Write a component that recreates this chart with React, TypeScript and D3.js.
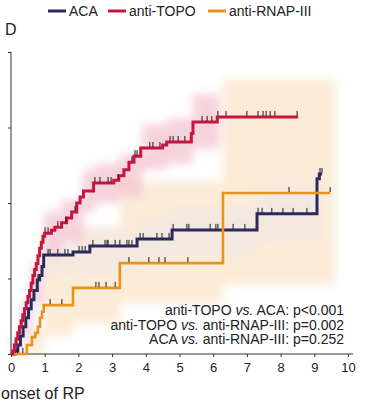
import React, { useEffect, useRef } from "react";
import * as d3 from "d3";

const seriesNames = ["ACA", "anti-TOPO", "anti-RNAP-III"];
const seriesColors = ["#272b5e", "#c8153f", "#e8941c"];
const bandColors = ["#e6e8f2", "#f4c4d1", "#fce9d3"];

// ACA: event times (years) and cumulative incidence
const acaTimes = [0, 0.12, 0.2, 0.28, 0.36, 0.44, 0.52, 0.6, 0.68, 0.78, 0.85, 0.92, 0.97, 1.84, 2.34, 3.74, 4.78, 7.3, 9.08, 9.15];
const acaValues = [0, 0.01, 0.03, 0.06, 0.09, 0.12, 0.15, 0.18, 0.21, 0.245, 0.26, 0.29, 0.328, 0.338, 0.358, 0.381, 0.411, 0.464, 0.58, 0.596];
const acaEnd = 9.23;
const acaCensored = [0.8, 1.1, 1.16, 1.39, 1.6, 1.69, 2.02, 2.11, 2.2, 2.43, 2.79, 2.85, 2.88, 3.09, 3.23, 3.44, 3.5, 3.59, 3.83, 3.92, 4.33, 4.48, 4.69, 4.81, 5.22, 5.28, 5.91, 6.08, 6.14, 6.59, 6.94, 7.33, 7.45, 7.74, 8.07, 8.37, 8.78, 9.17, 9.23];
const acaBandTimes = [0.12, 0.5, 0.97, 1.84, 3.74, 4.78, 7.3, 9.2];
const acaBandLow = [0, 0.1, 0.26, 0.27, 0.3, 0.33, 0.37, 0.37];
const acaBandHigh = [0.04, 0.2, 0.4, 0.41, 0.45, 0.49, 0.56, 0.56];

// anti-TOPO
const topoTimes = [0, 0.05, 0.1, 0.15, 0.2, 0.25, 0.3, 0.35, 0.4, 0.45, 0.5, 0.55, 0.6, 0.65, 0.7, 0.75, 0.8, 0.85, 0.9, 0.95, 1.0, 1.2, 1.3, 1.5, 1.65, 1.8, 1.95, 2.05, 2.15, 2.45, 3.05, 3.2, 3.35, 3.5, 3.65, 3.85, 4.5, 4.62, 5.35, 5.4, 6.12];
const topoValues = [0, 0.01, 0.03, 0.05, 0.07, 0.09, 0.11, 0.13, 0.15, 0.17, 0.19, 0.21, 0.235, 0.26, 0.28, 0.3, 0.325, 0.35, 0.37, 0.39, 0.4, 0.41, 0.42, 0.435, 0.45, 0.47, 0.5, 0.52, 0.54, 0.566, 0.575, 0.59, 0.61, 0.635, 0.655, 0.682, 0.692, 0.702, 0.73, 0.768, 0.785];
const topoEnd = 8.52;
const topoCensored = [1.01, 1.1, 1.39, 1.63, 1.9, 2.49, 2.64, 2.88, 2.97, 3.18, 3.59, 3.68, 3.74, 4.12, 4.21, 4.42, 4.72, 4.81, 4.96, 5.16, 5.67, 5.82, 5.96, 6.14, 6.38, 7.0, 7.33, 7.48, 7.57, 7.69, 7.83, 8.49];
const topoBandTimes = [0.05, 0.3, 0.6, 0.98, 1.5, 2.14, 2.49, 3.23, 3.89, 4.62, 5.4, 6.2];
const topoBandLow = [0, 0.06, 0.17, 0.32, 0.37, 0.47, 0.5, 0.52, 0.61, 0.63, 0.68, 0.68];
const topoBandHigh = [0.06, 0.17, 0.3, 0.47, 0.51, 0.61, 0.63, 0.66, 0.76, 0.78, 0.86, 0.86];

// anti-RNAP-III
const rnapTimes = [0, 0.47, 0.62, 0.72, 0.8, 0.86, 0.92, 0.97, 1.84, 3.23, 6.29];
const rnapValues = [0, 0.03, 0.056, 0.07, 0.09, 0.12, 0.14, 0.162, 0.219, 0.301, 0.533];
const rnapEnd = 9.47;
const rnapCensored = [0.2, 0.35, 1.16, 1.51, 2.52, 2.61, 2.82, 3.09, 3.5, 4.09, 4.39, 4.57, 5.25, 8.25, 9.47];
const rnapBandTimes = [0.47, 0.97, 1.84, 3.23, 6.29, 9.6];
const rnapBandLow = [0, 0.06, 0.1, 0.17, 0.23, 0.23];
const rnapBandHigh = [0.08, 0.35, 0.42, 0.57, 0.91, 0.91];

const xTicks = [0, 1, 2, 3, 4, 5, 6, 7, 8, 9, 10];
const yTicks = [0, 0.25, 0.5, 0.75, 1];

const pValueLines = [
  ["anti-TOPO ", "vs.", " ACA: p<0.001"],
  ["anti-TOPO ", "vs.", " anti-RNAP-III: p=0.002"],
  ["ACA ", "vs.", " anti-RNAP-III: p=0.252"],
];

const FONT = "'Liberation Sans', Arial, sans-serif";

const App = () => {
  const svgRef = useRef<SVGSVGElement>(null);

  useEffect(() => {
    const svg = d3.select(svgRef.current);
    svg.selectAll("*").remove();

    const x = d3.scaleLinear().domain([0, 10]).range([11, 348]);
    const y = d3.scaleLinear().domain([0, 1]).range([354, 52]);

    // soft edges for the confidence bands
    svg
      .append("defs")
      .append("filter")
      .attr("id", "soft")
      .attr("x", "-15%")
      .attr("y", "-15%")
      .attr("width", "130%")
      .attr("height", "130%")
      .append("feGaussianBlur")
      .attr("stdDeviation", 4);

    const bands = [
      { times: rnapBandTimes, low: rnapBandLow, high: rnapBandHigh, color: bandColors[2], op: 0.9 },
      { times: acaBandTimes, low: acaBandLow, high: acaBandHigh, color: bandColors[0], op: 0.35 },
      { times: topoBandTimes, low: topoBandLow, high: topoBandHigh, color: bandColors[1], op: 0.75 },
    ];
    bands.forEach((b) => {
      const idx = d3.range(b.times.length);
      const a = d3
        .area<number>()
        .curve(d3.curveStepAfter)
        .x((i) => x(b.times[i]))
        .y0((i) => y(b.low[i]))
        .y1((i) => y(b.high[i]));
      svg
        .append("path")
        .attr("d", a(idx))
        .attr("fill", b.color)
        .attr("opacity", b.op)
        .attr("filter", "url(#soft)");
    });

    // axes
    const yAxis = svg.append("g").attr("transform", `translate(${x(0)},0)`);
    yAxis.call(d3.axisLeft(y).tickValues(yTicks).tickSize(3).tickFormat(() => ""));
    yAxis.select(".domain").attr("d", `M0,${y(1)}V${y(0)}`).attr("stroke", "#333");
    yAxis.selectAll("line").attr("stroke", "#333");

    const xAxis = svg.append("g").attr("transform", `translate(0,${y(0)})`);
    xAxis.call(d3.axisBottom(x).tickValues(xTicks).tickSize(3).tickPadding(6).tickFormat(d3.format("d")));
    xAxis.select(".domain").attr("d", `M${x(0)},0H${x(10) + 5}`).attr("stroke", "#333");
    xAxis.selectAll("line").attr("stroke", "#333");
    xAxis
      .selectAll("text")
      .attr("font-family", FONT)
      .attr("font-size", 13)
      .attr("fill", "#222");

    // step curves
    const series = [
      { times: acaTimes, values: acaValues, end: acaEnd, cens: acaCensored, color: seriesColors[0], w: 3 },
      { times: rnapTimes, values: rnapValues, end: rnapEnd, cens: rnapCensored, color: seriesColors[2], w: 2.6 },
      { times: topoTimes, values: topoValues, end: topoEnd, cens: topoCensored, color: seriesColors[1], w: 3 },
    ];
    const line = d3
      .line<[number, number]>()
      .curve(d3.curveStepAfter)
      .x((d) => x(d[0]))
      .y((d) => y(d[1]));

    series.forEach((s) => {
      const pts: [number, number][] = s.times.map((t, i) => [t, s.values[i]]);
      pts.push([s.end, s.values[s.values.length - 1]]);
      svg
        .append("path")
        .attr("d", line(pts))
        .attr("fill", "none")
        .attr("stroke", s.color)
        .attr("stroke-width", s.w);
    });

    // censoring marks
    series.forEach((s) => {
      const valueAt = (t: number) => s.values[Math.max(0, d3.bisectRight(s.times, t) - 1)];
      svg
        .append("g")
        .selectAll("line")
        .data(s.cens)
        .enter()
        .append("line")
        .attr("x1", (d) => x(d))
        .attr("x2", (d) => x(d))
        .attr("y1", (d) => y(valueAt(d)) - 1)
        .attr("y2", (d) => y(valueAt(d)) - 6)
        .attr("stroke", "#1a1a1a")
        .attr("stroke-width", 1);
    });

    // legend
    const legendX = [48, 108, 208];
    const legend = svg.append("g");
    seriesNames.forEach((name, i) => {
      legend
        .append("line")
        .attr("x1", legendX[i])
        .attr("x2", legendX[i] + 18)
        .attr("y1", 11)
        .attr("y2", 11)
        .attr("stroke", seriesColors[i])
        .attr("stroke-width", 3);
      legend
        .append("text")
        .attr("x", legendX[i] + 21)
        .attr("y", 16)
        .attr("font-family", FONT)
        .attr("font-size", 14)
        .attr("fill", "#222")
        .text(name);
    });

    svg
      .append("text")
      .attr("x", 5)
      .attr("y", 35)
      .attr("font-family", FONT)
      .attr("font-size", 16)
      .attr("fill", "#222")
      .text("D");

    // p values
    const pText = svg
      .append("g")
      .attr("font-family", FONT)
      .attr("font-size", 14)
      .attr("fill", "#222")
      .attr("text-anchor", "end");
    pValueLines.forEach((parts, i) => {
      const t = pText.append("text").attr("x", 344).attr("y", 315 + i * 14.5);
      parts.forEach((p, j) => {
        t.append("tspan")
          .attr("font-style", j === 1 ? "italic" : "normal")
          .text(p);
      });
    });

    // x axis title
    svg
      .append("text")
      .attr("x", 1)
      .attr("y", 399)
      .attr("font-family", FONT)
      .attr("font-size", 16)
      .attr("fill", "#222")
      .text("onset of RP");
  }, []);

  return (
    <div style={{ position: "absolute", left: 0, top: 0 }}>
      <svg ref={svgRef} width={367} height={403} style={{ display: "block", background: "#fff" }}></svg>
    </div>
  );
};

export default App;
